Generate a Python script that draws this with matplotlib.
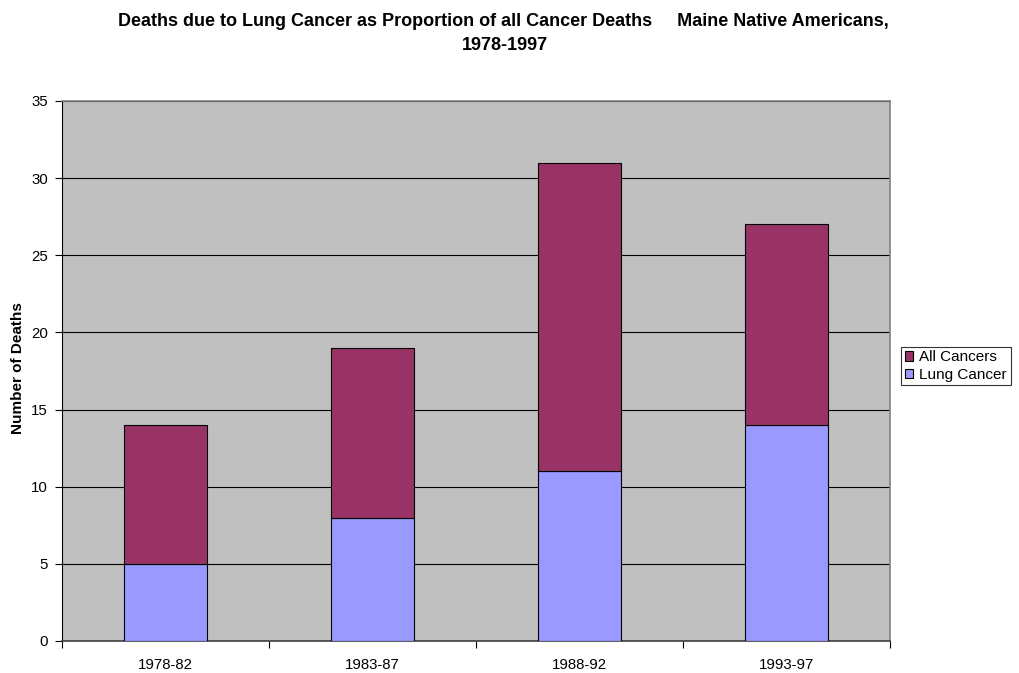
import matplotlib
matplotlib.use("Agg")
import matplotlib.pyplot as plt
import numpy as np

plt.rcParams['font.family'] = ['Liberation Sans', 'DejaVu Sans']

categories = ["1978-82", "1983-87", "1988-92", "1993-97"]
lung_cancer = [5, 8, 11, 14]
all_cancers = [9, 11, 20, 13]

fig = plt.figure(figsize=(10.2, 6.73), dpi=100)
ax = fig.add_axes([62/1020, 1-641/673, (890-62)/1020, (641-101)/673])
ax.set_facecolor('#C0C0C0')

x = np.arange(len(categories))
ax.bar(x, lung_cancer, width=0.4, color='#9999FF', edgecolor='black', linewidth=0.8, label='Lung Cancer', zorder=3)
ax.bar(x, all_cancers, width=0.4, bottom=lung_cancer, color='#993366', edgecolor='black', linewidth=0.8, label='All Cancers', zorder=3)

ax.set_xlim(-0.5, len(categories)-0.5)
ax.set_ylim(0, 35)
ax.set_yticks(range(0, 36, 5))
ax.yaxis.grid(True, color='black', linewidth=0.8, zorder=1)
ax.set_axisbelow(True)
ax.set_xticks(x)
ax.set_xticklabels(categories, fontsize=10.8)
ax.set_xticks(np.arange(-0.5, len(categories), 1), minor=True)
ax.tick_params(axis='x', which='major', length=0, pad=12)
ax.tick_params(axis='x', which='minor', length=5, direction='out', width=0.8)
ax.tick_params(axis='y', length=5, direction='out', labelsize=10.8, width=0.8, pad=5)

for s in ['top', 'right']:
    ax.spines[s].set_color('#808080')
    ax.spines[s].set_linewidth(1.2)
ax.spines['left'].set_color('black')
ax.spines['bottom'].set_color('#404040')
ax.spines['bottom'].set_linewidth(1.2)

ax.set_ylabel('Number of Deaths', fontsize=11, fontweight='bold', va='center')
ax.yaxis.set_label_coords((18-62)/828, (641-368)/540)

fig.text(503/1020, 1-21/673, "Deaths due to Lung Cancer as Proportion of all Cancer Deaths     Maine Native Americans,",
         ha='center', va='center', fontsize=13, fontweight='bold')
fig.text(505/1020, 1-45/673, "1978-1997", ha='center', va='center', fontsize=13, fontweight='bold')

handles, labels = ax.get_legend_handles_labels()
leg = fig.legend(handles[::-1], labels[::-1], loc='center', bbox_to_anchor=(956/1020, 1-366/673),
                 fontsize=11, frameon=True, fancybox=False, handlelength=0.55, handleheight=0.55,
                 handletextpad=0.4, borderpad=0.25, labelspacing=0.2, borderaxespad=0)
leg.get_frame().set_edgecolor('black')
leg.get_frame().set_linewidth(0.8)

fig.savefig('out.png', dpi=100)
